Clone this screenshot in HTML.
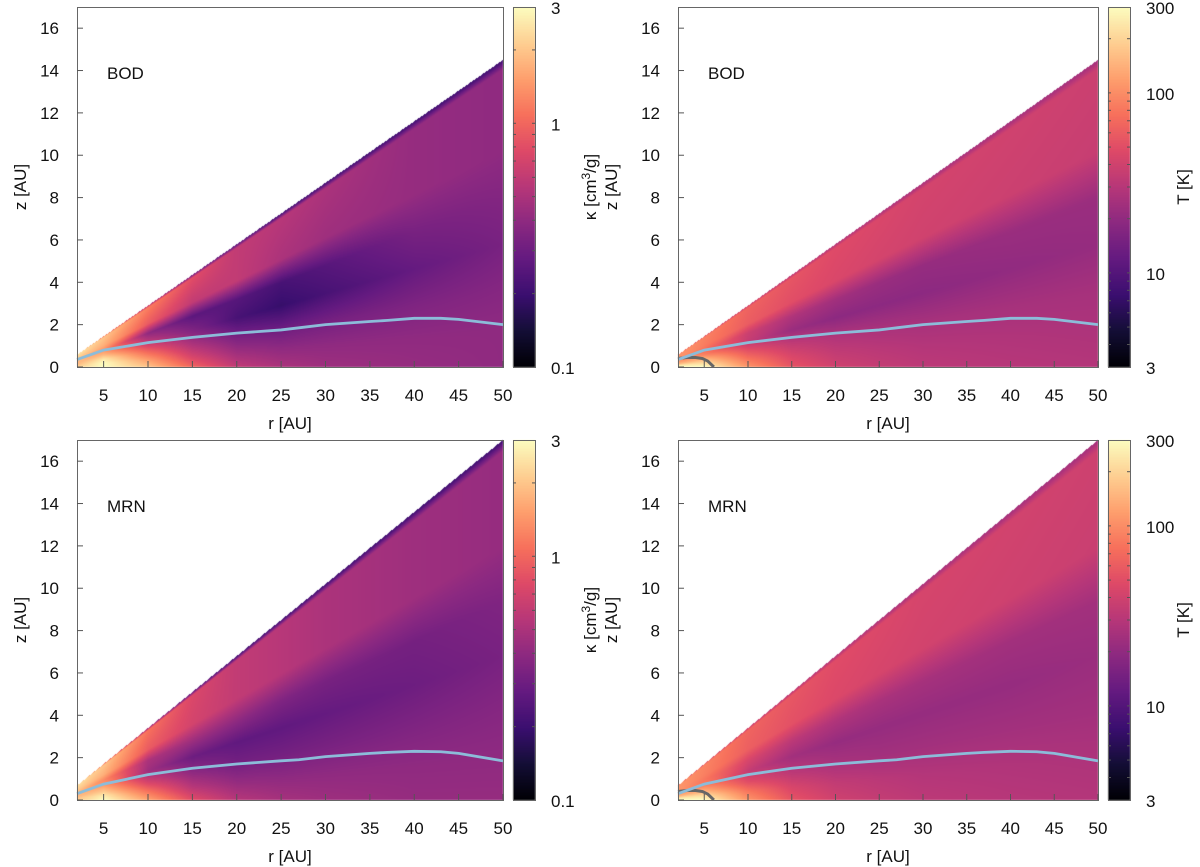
<!DOCTYPE html>
<html><head><meta charset="utf-8">
<style>
body{margin:0;background:#fff;width:1200px;height:867px;overflow:hidden;position:relative;font-family:"Liberation Sans",sans-serif}
canvas{position:absolute;left:0;top:0}
svg{position:absolute;left:0;top:0}
text{font-family:"Liberation Sans",sans-serif;fill:#111}
</style></head><body>
<canvas id="cv" width="1200" height="867"></canvas>
<svg id="sv" width="1200" height="867"></svg>
<script>
// ---- data ----
const tNodes=[0,0.12,0.25,0.4,0.55,0.7,0.97,1.0];
const rNodes=[2,5,10,15,20,25,30,40,50];
const kappaBOD=[
[2.2,2.0,1.8,1.8,1.9,2.1,2.5,2.5],
[3.0,3.0,2.6,1.8,1.4,1.7,2.0,1.0],
[2.0,1.5,1.0,0.6,0.4,0.9,1.2,0.5],
[1.0,0.7,0.5,0.35,0.26,0.6,0.8,0.3],
[0.6,0.45,0.33,0.22,0.25,0.6,0.6,0.25],
[0.5,0.4,0.3,0.19,0.22,0.5,0.55,0.2],
[0.45,0.4,0.32,0.22,0.25,0.45,0.5,0.2],
[0.42,0.4,0.35,0.28,0.33,0.42,0.42,0.2],
[0.4,0.4,0.37,0.33,0.36,0.4,0.4,0.2]];
const kappaMRN=[
[2.0,2.0,1.8,1.8,1.9,2.1,2.4,2.4],
[3.0,2.6,2.0,1.5,1.3,1.7,2.0,1.0],
[1.6,1.1,0.7,0.45,0.5,0.9,1.1,0.4],
[0.8,0.55,0.4,0.3,0.45,0.7,0.75,0.25],
[0.55,0.42,0.32,0.27,0.4,0.6,0.6,0.2],
[0.48,0.4,0.32,0.27,0.35,0.55,0.55,0.2],
[0.45,0.4,0.33,0.28,0.33,0.5,0.5,0.2],
[0.42,0.4,0.35,0.3,0.32,0.45,0.45,0.2],
[0.42,0.4,0.37,0.33,0.35,0.42,0.42,0.2]];
const tempBOD=[
[300,250,150,120,110,110,110,60],
[300,220,150,90,75,85,90,40],
[110,80,55,35,38,60,65,35],
[55,45,34,22,28,50,55,30],
[40,34,28,19,24,45,48,28],
[35,31,26,19,22,42,45,26],
[32,29,25,19,21,40,42,25],
[30,28,25,20,22,38,40,24],
[29,27,25,21,22,36,38,24]];
const tempMRN=[
[300,250,150,120,110,110,110,60],
[300,220,140,90,80,88,92,40],
[110,80,50,35,44,62,66,35],
[55,44,32,24,32,52,56,30],
[40,34,26,21,28,46,49,28],
[35,31,24,21,26,43,46,26],
[32,29,24,21,25,41,43,25],
[30,28,24,21,24,39,41,24],
[29,27,24,22,24,37,39,24]];
const curveR=[2,5,10,15,20,25,27,30,35,37,40,43,45,50];
const curveZtop=[0.35,0.8,1.15,1.4,1.6,1.75,1.85,2.0,2.15,2.2,2.3,2.3,2.25,2.0];
const curveZbot=[0.3,0.75,1.2,1.5,1.7,1.85,1.9,2.05,2.2,2.25,2.3,2.28,2.2,1.85];
const contourR=[2,3,4,4.8,5.4,5.8,6.1];
const contourZ=[0.4,0.45,0.45,0.4,0.28,0.12,0];
const xTicks=[5,10,15,20,25,30,35,40,45,50];
const yTicks=[0,2,4,6,8,10,12,14,16];
const kTicks=[0.1,1,3];
const kTickLabels=["0.1","1","3"];
const tTicks=[3,10,100,300];
const tTickLabels=["3","10","100","300"];
// ---- magma ----
const magma=[[0,0,0,4],[.1,20,14,54],[.2,59,15,112],[.3,100,26,128],[.4,140,41,129],[.5,183,55,121],[.6,222,73,104],[.7,247,112,92],[.8,254,159,109],[.9,254,207,146],[1,252,253,191]];
function cmap(u){u=Math.max(0,Math.min(1,u));for(let i=1;i<magma.length;i++){if(u<=magma[i][0]){const a=magma[i-1],b=magma[i],f=(u-a[0])/(b[0]-a[0]);return[a[1]+f*(b[1]-a[1]),a[2]+f*(b[2]-a[2]),a[3]+f*(b[3]-a[3])];}}return magma[10].slice(1);}
function interp(xs,ys,x){if(x<=xs[0])return ys[0];for(let i=1;i<xs.length;i++){if(x<=xs[i]){const f=(x-xs[i-1])/(xs[i]-xs[i-1]);return ys[i-1]+f*(ys[i]-ys[i-1]);}}return ys[ys.length-1];}
function field(grid,r,t){const cols=tNodes.map((_,j)=>interp(rNodes,grid.map(row=>Math.log(row[j])),r));return Math.exp(interp(tNodes,cols,t));}
const panels=[
{x0:77,x1:503,y0:7,y1:367,cb0:513,cb1:535,slope:0.29,grid:kappaBOD,vmin:0.1,vmax:3,curve:curveZtop,label:"BOD",kind:"k",zx:26},
{x0:678,x1:1098,y0:7,y1:367,cb0:1108,cb1:1130,slope:0.29,grid:tempBOD,vmin:3,vmax:300,curve:curveZtop,label:"BOD",kind:"t",zx:617},
{x0:77,x1:503,y0:440,y1:800,cb0:513,cb1:535,slope:0.34,grid:kappaMRN,vmin:0.1,vmax:3,curve:curveZbot,label:"MRN",kind:"k",zx:26},
{x0:678,x1:1098,y0:440,y1:800,cb0:1108,cb1:1130,slope:0.34,grid:tempMRN,vmin:3,vmax:300,curve:curveZbot,label:"MRN",kind:"t",zx:617}];
const ctx=document.getElementById('cv').getContext('2d');
const sv=document.getElementById('sv');const NS="http://www.w3.org/2000/svg";
function mk(tag,attrs,parent){const e=document.createElementNS(NS,tag);for(const k in attrs)e.setAttribute(k,attrs[k]);(parent||sv).appendChild(e);return e;}
panels.forEach((p,pi)=>{
 const W=p.x1-p.x0,H=p.y1-p.y0;
 const X=r=>p.x0+(r-2)/48*W, Y=z=>p.y1-z/17*H;
 const norm=v=>Math.log(v/p.vmin)/Math.log(p.vmax/p.vmin);
 const img=ctx.createImageData(W,H);
 for(let py=0;py<H;py++)for(let px=0;px<W;px++){
  const r=2+(px+0.5)/W*48,z=(H-py-0.5)/H*17;const t=(z/r)/p.slope;const i=(py*W+px)*4;
  if(t>1){img.data[i]=255;img.data[i+1]=255;img.data[i+2]=255;img.data[i+3]=255;continue;}
  const c=cmap(norm(field(p.grid,r,t)));img.data[i]=c[0];img.data[i+1]=c[1];img.data[i+2]=c[2];img.data[i+3]=255;}
 ctx.putImageData(img,p.x0,p.y0);
 const ch=p.y1-p.y0;const cw=p.cb1-p.cb0;
 for(let py=0;py<ch;py++){const c=cmap(1-py/ch);ctx.fillStyle=`rgb(${c[0]|0},${c[1]|0},${c[2]|0})`;ctx.fillRect(p.cb0,p.y0+py,cw,1);}
 const g=mk('g',{});
 
 
 if(p.kind==="t"){const pts=contourR.map((r,i)=>X(r)+','+Y(contourZ[i])).join(' ');const cl=mk('polyline',{points:pts,fill:'none',stroke:'#666',"stroke-width":3},g);
  
  }
 const pts=curveR.map((r,i)=>X(r)+','+Y(p.curve[i])).join(' ');
 const bl=mk('polyline',{points:pts,fill:'none',stroke:'#8cbcd9',"stroke-width":2.8},g);
 
 
 const fr=mk('rect',{x:p.x0+0.5,y:p.y0+0.5,width:W,height:H,fill:'none',stroke:'#666',"stroke-width":1},g);
 
 
 xTicks.forEach(v=>{const x=X(v);mk('line',{x1:x,x2:x,y1:p.y1,y2:p.y1-6,stroke:'#555'},g);const tx=mk('text',{x:x,y:p.y1+34,"text-anchor":"middle","font-size":17},g);tx.textContent=v;
  
  });
 yTicks.forEach(v=>{const y=Y(v);mk('line',{x1:p.x0,x2:p.x0+6,y1:y,y2:y,stroke:'#555'},g);const tx=mk('text',{x:p.x0-18,y:y+6,"text-anchor":"end","font-size":17},g);tx.textContent=v;
  
  });
 const xt=mk('text',{x:(p.x0+p.x1)/2,y:p.y1+62,"text-anchor":"middle","font-size":17},g);xt.textContent="r [AU]";
 
 
 const ycx=p.zx,ycy=(p.y0+p.y1)/2;
 const yt=mk('text',{x:ycx,y:ycy,"text-anchor":"middle","font-size":17,transform:`rotate(-90 ${ycx} ${ycy})`},g);yt.textContent="z [AU]";
 
 
 const lb=mk('text',{x:p.x0+30,y:p.y0+72,"font-size":17},g);lb.textContent=p.label;
 
 
 mk('rect',{x:p.cb0+0.5,y:p.y0+0.5,width:cw,height:ch,fill:'none',stroke:'#666'},g);
 const CY=v=>p.y1-norm(v)*ch;
 const ticks=p.kind==="k"?kTicks:tTicks,labs=p.kind==="k"?kTickLabels:tTickLabels;
 ticks.forEach((v,i)=>{const y=CY(v);const tx=mk('text',{x:p.cb1+16,y:y+7,"font-size":17},g);tx.textContent=labs[i];
  
  });
 const minors=p.kind==="k"?[0.2,0.3,0.4,0.5,0.6,0.7,0.8,0.9,1,2]:[4,5,6,7,8,9,10,20,30,40,50,60,70,80,90,100,200];
 minors.forEach(v=>{const y=CY(v);mk('line',{x1:p.cb0,x2:p.cb0+3,y1:y,y2:y,stroke:'#555'},g);mk('line',{x1:p.cb1-3,x2:p.cb1,y1:y,y2:y,stroke:'#555'},g);});
 if(p.kind==="k"){const lx=596,ly=ycy;const kt=mk('text',{x:lx,y:ly,"text-anchor":"middle","font-size":17,transform:`rotate(-90 ${lx} ${ly})`},g);
  kt.innerHTML='κ [cm<tspan dy="-6" font-size="12">3</tspan><tspan dy="6">/g]</tspan>';
  
  }
 else{const lx=p.cb1+59,ly=ycy;const tt=mk('text',{x:lx,y:ly,"text-anchor":"middle","font-size":17,transform:`rotate(-90 ${lx} ${ly})`},g);tt.textContent="T [K]";
  
  }
});
</script>
</body></html>
